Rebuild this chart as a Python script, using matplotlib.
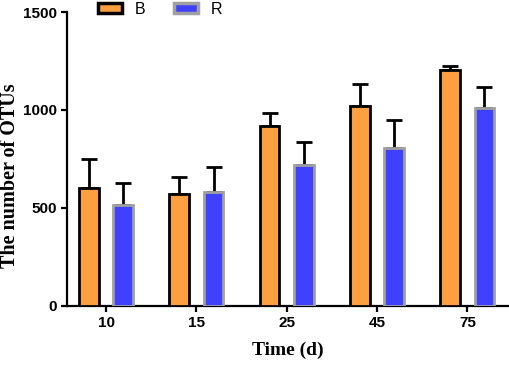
import numpy as np
import matplotlib
matplotlib.use('Agg')
from matplotlib import pyplot as plt

days = ['10', '15', '25', '45', '75']
b_mean = [602, 571, 918, 1020, 1204]
b_err = [148, 87, 67, 113, 20]
r_mean = [515, 582, 719, 806, 1010]
r_err = [112, 127, 118, 143, 107]

fig = plt.figure(figsize=(5.1, 3.65), dpi=100)
ax = fig.add_axes([0.131, 0.162, 0.865, 0.805])

x = np.arange(len(days))
w = 0.22
off = 0.19

ax.bar(x - off, b_mean, w, color='#FFA040', edgecolor='black', linewidth=2, zorder=3,
       label='B')
ax.bar(x + off, r_mean, w, color='#4040FF', edgecolor='#A0A0A0', linewidth=2, zorder=3,
       label='R')
ax.errorbar(x - off, b_mean, yerr=[np.zeros(len(b_err)), b_err], fmt='none',
            ecolor='black', elinewidth=2, capsize=5.5, capthick=2, zorder=2)
ax.errorbar(x + off, r_mean, yerr=[np.zeros(len(r_err)), r_err], fmt='none',
            ecolor='black', elinewidth=2, capsize=5.5, capthick=2, zorder=2)

ax.set_xlim(-0.435, 4.45)
ax.set_ylim(0, 1500)
ax.set_yticks([0, 500, 1000, 1500])
ax.set_xticks(x)
ax.set_xticklabels(days)

for s in ['top', 'right']:
    ax.spines[s].set_visible(False)
for s in ['left', 'bottom']:
    ax.spines[s].set_linewidth(1.6)
ax.tick_params(width=1.6, length=4, labelsize=11, pad=3)
for lab in ax.get_xticklabels() + ax.get_yticklabels():
    lab.set_fontfamily('Liberation Sans')
    lab.set_fontweight('bold')

ax.set_xlabel('Time (d)', fontfamily='Liberation Serif', fontweight='bold', fontsize=14,
              labelpad=9)
ax.set_ylabel('The number of OTUs', fontfamily='Liberation Serif', fontweight='bold',
              fontsize=14.5)
ax.yaxis.set_label_coords(-0.105, 0.442)

leg = ax.legend(loc='upper left', bbox_to_anchor=(0.052, 1.062), ncol=2, frameon=False,
                handlelength=1.5, handleheight=0.55, handletextpad=0.8, columnspacing=1.8,
                borderpad=0.0, prop={'family': 'Liberation Sans', 'size': 11.5})
for h in leg.legend_handles:
    h.set_linewidth(2.5)

fig.savefig('out.png', dpi=100)
